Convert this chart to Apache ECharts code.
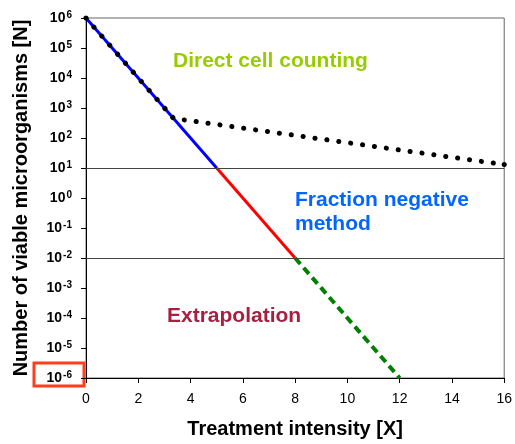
<!DOCTYPE html>
<html>
<head>
<meta charset="utf-8">
<script src="https://cdn.jsdelivr.net/npm/echarts@6/dist/echarts.min.js"></script>
<style>
  html, body { margin: 0; padding: 0; background: #fff; }
  #chart { width: 515px; height: 444px; }
</style>
</head>
<body>
<div id="chart"></div>
<script>
// Survivor curves: viable count N against treatment intensity X
const xTicks = [0, 2, 4, 6, 8, 10, 12, 14, 16];
const yExponents = [-6, -5, -4, -3, -2, -1, 0, 1, 2, 3, 4, 5, 6];

// Log-linear inactivation, countable range
const countableX = [0, 5];
const countableN = [1e6, 10];
// Fraction negative range
const fractionX = [5, 8];
const fractionN = [10, 0.01];
// Extrapolated range
const extrapX = [8, 12];
const extrapN = [0.01, 1e-6];
// Direct cell counting (tailing)
const directX = [0, 3.35, 16];
const directN = [1e6, 450, 13];
// Detection limits
const limits = [10, 0.01];

const toPairs = (xs, ns) => xs.map((x, i) => [x, Math.log10(ns[i])]);

const font = 'Arial, "Liberation Sans", sans-serif';
const chart = echarts.init(document.getElementById('chart'));

// Dotted curve: every point plain, the final one capped with a dot
const directData = toPairs(directX, directN).map((p, i, arr) =>
  i === arr.length - 1
    ? { value: p, symbol: 'circle', symbolSize: 5, itemStyle: { color: '#000', borderWidth: 0 } }
    : { value: p, symbol: 'none' });

chart.setOption({
  animation: false,
  grid: {
    left: 86, right: 8, top: 18, bottom: 66,
    show: true, borderColor: '#666', borderWidth: 1
  },
  xAxis: {
    type: 'value', min: xTicks[0], max: xTicks[xTicks.length - 1], interval: 2,
    name: 'Treatment intensity [X]',
    nameLocation: 'middle', nameGap: 41,
    nameTextStyle: { fontFamily: font, fontSize: 20, fontWeight: 'bold', color: '#000' },
    axisLine: { onZero: false, lineStyle: { color: '#000', width: 1 } },
    axisTick: { inside: false, length: 5, lineStyle: { color: '#000' } },
    axisLabel: { fontFamily: font, fontSize: 14, color: '#000', margin: 14 },
    splitLine: { show: false }
  },
  yAxis: {
    type: 'value', min: yExponents[0], max: yExponents[yExponents.length - 1], interval: 1,
    name: 'Number of viable microorganisms [N]',
    nameLocation: 'middle', nameGap: 55,
    nameTextStyle: { fontFamily: font, fontSize: 20, fontWeight: 'bold', color: '#000' },
    axisLine: { onZero: false, lineStyle: { color: '#000', width: 1 } },
    axisTick: { inside: false, length: 5, lineStyle: { color: '#000' } },
    axisLabel: {
      margin: 14,
      formatter: v => '{b|10}{s|' + v + '}',
      rich: {
        b: { fontFamily: font, fontSize: 14, fontWeight: 'bold', color: '#000', lineHeight: 14, verticalAlign: 'bottom' },
        s: { fontFamily: font, fontSize: 10, fontWeight: 'bold', color: '#000', lineHeight: 10, verticalAlign: 'bottom', padding: [0, 0, 5, 1] }
      }
    },
    splitLine: { show: false }
  },
  series: [
    {
      type: 'line', data: toPairs(countableX, countableN),
      symbol: 'none', lineStyle: { color: '#0000ff', width: 3 },
      markLine: {
        silent: true, symbol: 'none', label: { show: false },
        lineStyle: { color: '#444', width: 1, type: 'solid' },
        data: limits.map(v => ({ yAxis: Math.log10(v) }))
      },
      z: 3
    },
    {
      type: 'line', data: toPairs(fractionX, fractionN),
      symbol: 'none', lineStyle: { color: '#ff0000', width: 3 }, z: 3
    },
    {
      type: 'line', data: toPairs(extrapX, extrapN),
      symbol: 'none', lineStyle: { color: '#007f00', width: 4, type: [8, 5] }, z: 3
    },
    {
      type: 'line', data: directData,
      showAllSymbol: true,
      lineStyle: { color: '#000', width: 5, type: [0.1, 11.9], cap: 'round' },
      z: 4
    }
  ]
});

// Region captions and highlighted lower bound
const lowTick = chart.convertToPixel({ xAxisIndex: 0, yAxisIndex: 0 }, [0, yExponents[0]]);
chart.setOption({
  graphic: [
    { type: 'text', left: 173, top: 51, style: { text: 'Direct cell counting', font: 'bold 21px ' + font, fill: '#99cc00' } },
    { type: 'text', left: 295, top: 188, style: { text: 'Fraction negative\nmethod', font: 'bold 21px ' + font, fill: '#0066ff', lineHeight: 24 } },
    { type: 'text', left: 167, top: 306, style: { text: 'Extrapolation', font: 'bold 21px ' + font, fill: '#a81f40' } },
    {
      type: 'rect',
      shape: { x: lowTick[0] - 52, y: lowTick[1] - 15, width: 50, height: 23 },
      style: { fill: 'none', stroke: '#ff3f1a', lineWidth: 3 }
    }
  ]
});
</script>
</body>
</html>
